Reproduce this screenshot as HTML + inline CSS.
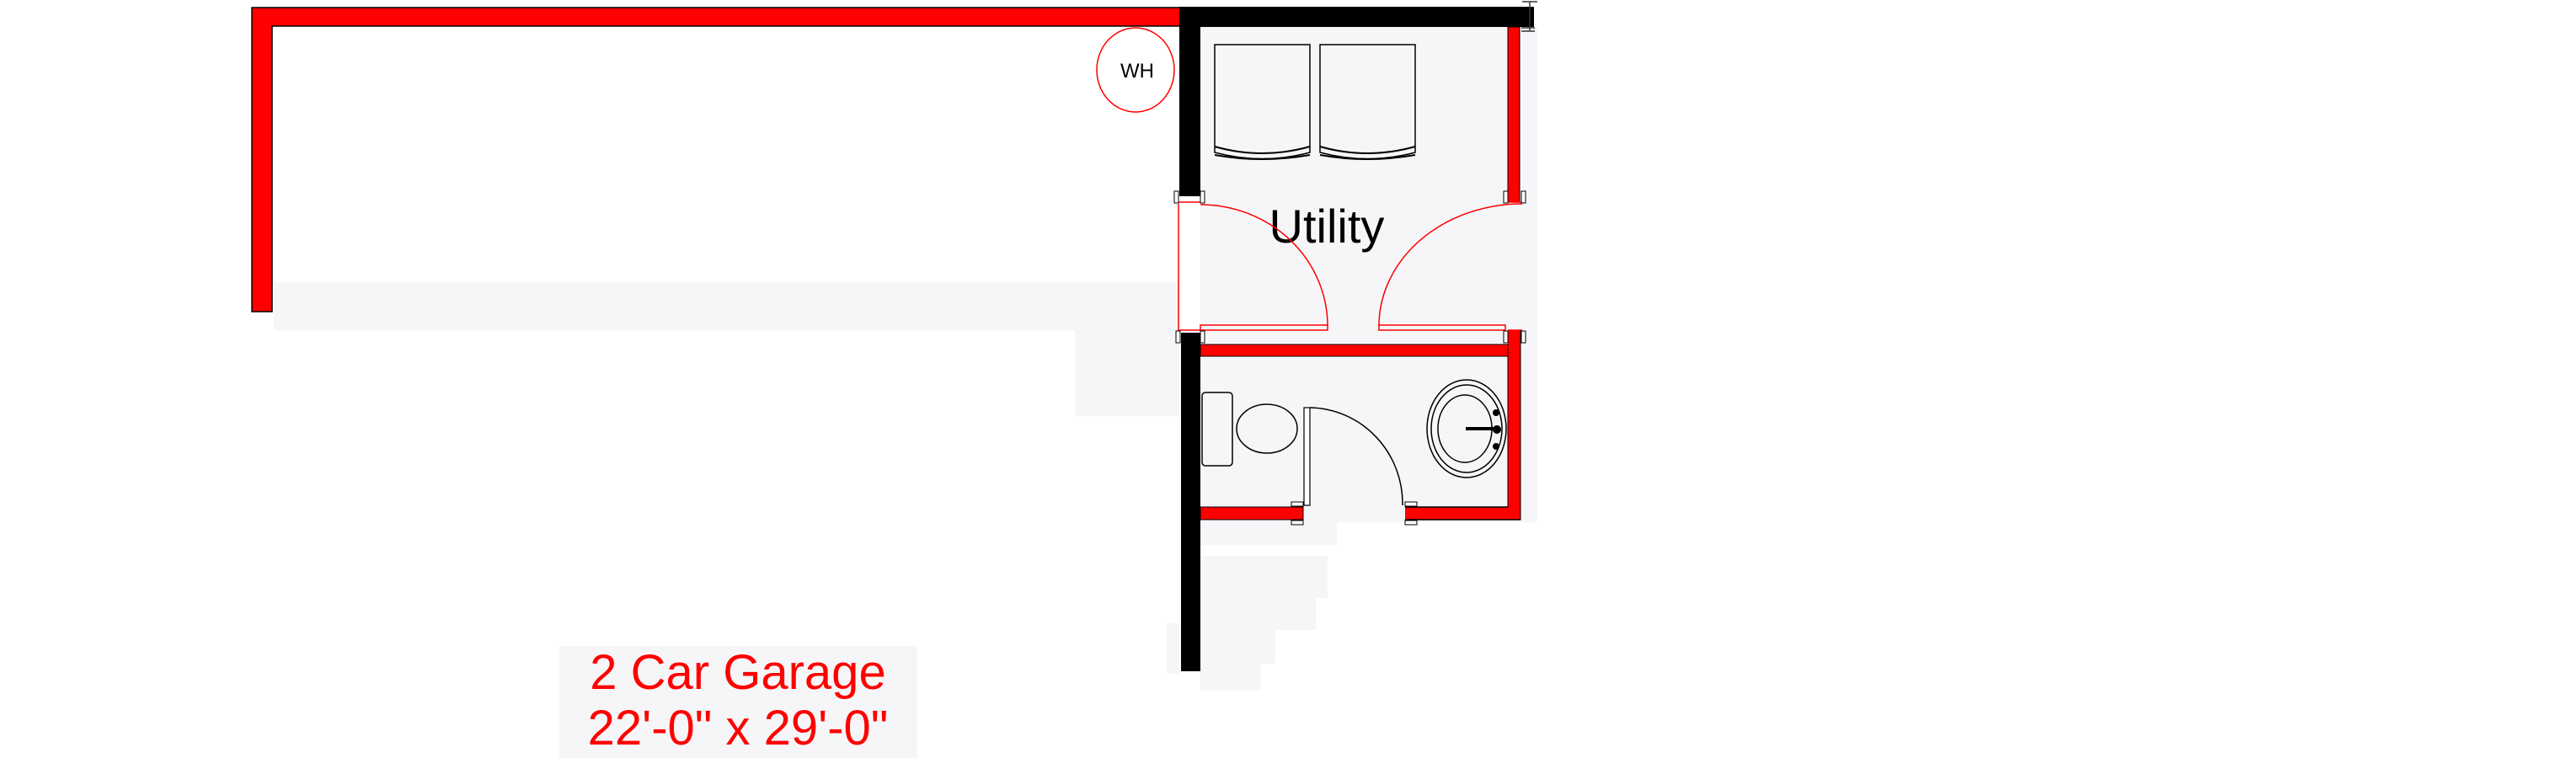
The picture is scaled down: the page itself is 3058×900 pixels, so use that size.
<!DOCTYPE html>
<html><head><meta charset="utf-8"><style>
html,body{margin:0;padding:0;background:#fff;}
svg{display:block;}
text{font-family:"Liberation Sans",sans-serif;}
</style></head><body>
<svg width="3058" height="900" viewBox="0 0 3058 900" xmlns="http://www.w3.org/2000/svg">
<!-- gray fills -->
<g fill="#f6f6f8">
<rect x="325" y="335" width="1075" height="57"/>
<rect x="1276" y="392" width="124" height="102"/>
<rect x="1425" y="32" width="400" height="588"/>
<rect x="1425" y="620" width="162" height="27"/>
<rect x="1425" y="660" width="151" height="50"/>
<rect x="1425" y="710" width="137" height="38"/>
<rect x="1425" y="748" width="89" height="40"/>
<rect x="1425" y="788" width="72" height="32"/>
<rect x="1385" y="740" width="15" height="60"/>
<rect x="664" y="767" width="425" height="133"/>
</g>
<!-- garage red walls -->
<path d="M299 9 H1412 V31 H323 V370 H299 Z" fill="#ff0000" stroke="#000" stroke-width="1.5"/>
<!-- utility black walls -->
<rect x="1400" y="8" width="421" height="24" fill="#000"/>
<rect x="1400" y="8" width="25" height="225" fill="#000"/>
<rect x="1402" y="395" width="23" height="402" fill="#000"/>
<!-- right red walls -->
<rect x="1790" y="32" width="14" height="208" fill="#ff0000" stroke="#000" stroke-width="1"/>
<rect x="1790" y="392" width="15" height="225" fill="#ff0000"/>
<path d="M1425 409 H1790 V423 H1425 Z" fill="#ff0000" stroke="#000" stroke-width="1"/>
<path d="M1425 602 H1547 V617 H1425 Z" fill="#ff0000" stroke="#000" stroke-width="1"/>
<path d="M1668 602 H1790 V423 M1668 617 H1805 V392" fill="none" stroke="#000" stroke-width="1"/>
<rect x="1668" y="602" width="122" height="15" fill="#ff0000"/>
<path d="M1668 602 H1790 M1668 617 H1805" stroke="#000" stroke-width="1.5"/>
<!-- top-right hardware -->
<path d="M1807 2 H1825 M1816 2 V36 M1806 33 H1822 M1806 37 H1822" stroke="#333" stroke-width="1.5" fill="none"/>
<!-- WH -->
<ellipse cx="1348" cy="83" rx="46" ry="50" fill="#fff" stroke="#ff0000" stroke-width="1.5"/>
<text x="1350" y="92" font-size="24" text-anchor="middle" fill="#000">WH</text>
<!-- washer/dryer -->
<g fill="#f6f6f8" stroke="#000" stroke-width="1.5">
<path d="M1442 53 H1555 V181 Q1498 196 1442 181 Z"/>
<path d="M1567 53 H1680 V181 Q1623 196 1567 181 Z"/>
</g>
<g fill="none" stroke="#000" stroke-width="2">
<path d="M1442 174 Q1498 190 1555 174"/><path d="M1442 184 Q1498 194 1555 184"/>
<path d="M1567 174 Q1623 190 1680 174"/><path d="M1567 184 Q1623 194 1680 184"/>
</g>
<text x="1575" y="288" font-size="56" text-anchor="middle" fill="#000">Utility</text>
<!-- utility doors -->
<g fill="none" stroke="#ff0000" stroke-width="1.5">
<path d="M1399 242 V393"/>
<path d="M1399 240 H1425"/>
<path d="M1425 243 A151 144 0 0 1 1576 387"/>
<rect x="1425" y="386" width="151" height="6"/>
<path d="M1399 392 H1425"/>
<path d="M1807 242 A170 145 0 0 0 1637 387"/>
<rect x="1637" y="386" width="150" height="6"/>
<path d="M1790 240 H1807 M1790 392 H1807"/>
</g>
<g fill="#fff" stroke="#000" stroke-width="1">
<rect x="1394" y="227" width="5" height="14"/><rect x="1425" y="227" width="5" height="14"/>
<rect x="1785" y="227" width="5" height="14"/><rect x="1806" y="227" width="5" height="14"/>
<rect x="1396" y="393" width="5" height="14"/><rect x="1425" y="393" width="5" height="14"/>
<rect x="1785" y="393" width="5" height="14"/><rect x="1806" y="393" width="5" height="14"/>
<rect x="1533" y="596" width="14" height="5"/><rect x="1533" y="618" width="14" height="5"/>
<rect x="1668" y="596" width="14" height="5"/><rect x="1668" y="618" width="14" height="5"/>
</g>
<!-- toilet -->
<rect x="1427" y="466" width="36" height="87" rx="4" fill="#f6f6f8" stroke="#000" stroke-width="1.5"/>
<ellipse cx="1504" cy="509" rx="36" ry="29" fill="#f6f6f8" stroke="#000" stroke-width="1.5"/>
<!-- bath door -->
<rect x="1548" y="484" width="7" height="116" fill="#fff" stroke="#000" stroke-width="1.2"/>
<path d="M1555 484 A112 114 0 0 1 1665 600" fill="none" stroke="#000" stroke-width="1.5"/>
<!-- sink -->
<g fill="none" stroke="#000" stroke-width="1.5">
<ellipse cx="1741" cy="509" rx="47" ry="58"/>
<ellipse cx="1741" cy="509" rx="42" ry="52"/>
<ellipse cx="1739" cy="509" rx="32" ry="40"/>
</g>
<path d="M1740 509 H1779" stroke="#000" stroke-width="4"/>
<circle cx="1777" cy="510" r="5" fill="#000"/>
<circle cx="1776" cy="490" r="4" fill="#000"/><circle cx="1776" cy="530" r="4" fill="#000"/>
<!-- garage label -->
<text x="876" y="818" font-size="58" text-anchor="middle" fill="#ff0000">2 Car Garage</text>
<text x="876" y="884" font-size="58" text-anchor="middle" fill="#ff0000">22'-0" x 29'-0"</text>
</svg>
</body></html>
